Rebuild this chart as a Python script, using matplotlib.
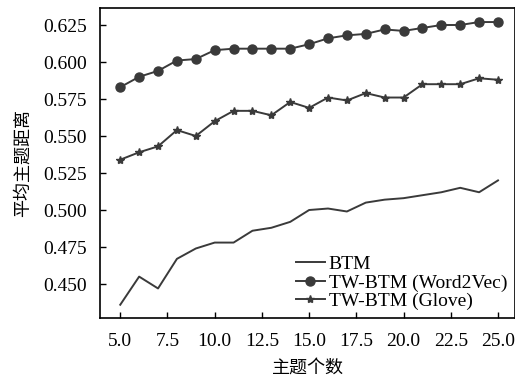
import matplotlib.pyplot as plt

topics = list(range(5, 26))

btm = [0.436, 0.455, 0.447, 0.467, 0.474, 0.478, 0.478, 0.486, 0.488, 0.492,
       0.500, 0.501, 0.499, 0.505, 0.507, 0.508, 0.510, 0.512, 0.515, 0.512,
       0.520]
tw_word2vec = [0.583, 0.590, 0.594, 0.601, 0.602, 0.608, 0.609, 0.609, 0.609,
               0.609, 0.612, 0.616, 0.618, 0.619, 0.622, 0.621, 0.623, 0.625,
               0.625, 0.627, 0.627]
tw_glove = [0.534, 0.539, 0.543, 0.554, 0.550, 0.560, 0.567, 0.567, 0.564,
            0.573, 0.569, 0.576, 0.574, 0.579, 0.576, 0.576, 0.585, 0.585,
            0.585, 0.589, 0.588]

labels = ["BTM", "TW-BTM (Word2Vec)", "TW-BTM (Glove)"]

plt.rcParams["font.family"] = ["Liberation Serif", "Noto Sans CJK SC"]

fig = plt.figure(figsize=(5.15, 3.8), dpi=100)
ax = fig.add_axes([0.195, 0.163, 0.805, 0.816])

c = "#3a3a3a"
ax.plot(topics, btm, color=c, lw=1.4, label=labels[0])
ax.plot(topics, tw_word2vec, color=c, lw=1.4, marker="o", ms=6.5,
        label=labels[1])
ax.plot(topics, tw_glove, color=c, lw=1.4, marker="*", ms=6,
        label=labels[2])

ax.set_xlim(3.95, 25.9)
ax.set_ylim(0.427, 0.6365)
ax.set_xticks([5, 7.5, 10, 12.5, 15, 17.5, 20, 22.5, 25])
ax.set_yticks([0.450, 0.475, 0.500, 0.525, 0.550, 0.575, 0.600, 0.625])
ax.xaxis.set_major_formatter(plt.FormatStrFormatter("%.1f"))
ax.yaxis.set_major_formatter(plt.FormatStrFormatter("%.3f"))
ax.tick_params(direction="in", labelsize=14, length=4, width=1)
ax.tick_params(axis="x", pad=11)
ax.tick_params(axis="y", pad=10)
for s in ax.spines.values():
    s.set_linewidth(1.2)
    s.set_color("black")

ax.set_xlabel("主题个数", fontsize=13, family="Noto Sans CJK SC", labelpad=6)
ax.set_ylabel("平均主题距离", fontsize=13, family="Noto Sans CJK SC",
              labelpad=8)

ax.legend(loc="lower right", frameon=False, fontsize=14, handlelength=1.5,
          handletextpad=0.2, labelspacing=0.05, borderaxespad=0.0)

fig.savefig("out.png")
